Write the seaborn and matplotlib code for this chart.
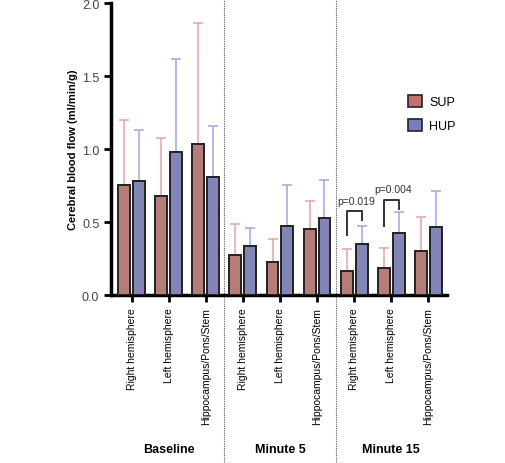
import numpy as np
import pandas as pd
import matplotlib
matplotlib.use("Agg")
import matplotlib.pyplot as plt
import seaborn as sns

# values (mean and top of error bar)
timepoints = ["Baseline", "Minute 5", "Minute 15"]
regions = ["Right hemisphere", "Left hemisphere", "Hippocampus/Pons/Stem"]
groups = ["SUP", "HUP"]
sup_mean = [0.754, 0.679, 1.032, 0.277, 0.224, 0.450, 0.167, 0.185, 0.304]
sup_top = [1.198, 1.073, 1.866, 0.487, 0.384, 0.643, 0.318, 0.325, 0.535]
hup_mean = [0.782, 0.977, 0.809, 0.334, 0.471, 0.531, 0.352, 0.428, 0.469]
hup_top = [1.128, 1.617, 1.155, 0.460, 0.757, 0.789, 0.473, 0.567, 0.713]
p_labels = ["p=0.019", "p=0.004"]
p_slots = [6, 7]  # Minute 15 right / left hemisphere
p_top = [0.576, 0.654]
p_left_low = [0.409, 0.470]
p_right_low = [0.515, 0.587]

cats = [f"{t}|{r}" for t in timepoints for r in regions]
df = pd.DataFrame({
    "cat": cats * 2,
    "group": ["SUP"] * 9 + ["HUP"] * 9,
    "cbf": sup_mean + hup_mean,
})

bar_colors = {"SUP": "#c0736e", "HUP": "#7a7dbf"}
err_colors = {"SUP": "#e3a3a2", "HUP": "#a3a6da"}

plt.rcParams["font.family"] = ["Liberation Sans", "DejaVu Sans"]
fig = plt.figure(figsize=(5.05, 4.64), dpi=100)
ax = fig.add_axes([0.22, 0.362, 0.665, 0.629])

sns.barplot(data=df, x="cat", y="cbf", hue="group", order=cats, hue_order=groups,
            palette=bar_colors, errorbar=None, width=0.8, gap=0.2,
            edgecolor="#222222", linewidth=1.4, ax=ax, legend=False, zorder=3)

tops = {"SUP": sup_top, "HUP": hup_top}
centers = {}
for cont, g in zip(ax.containers, groups):
    xs = np.array([p.get_x() + p.get_width() / 2 for p in cont])
    hs = np.array([p.get_height() for p in cont])
    centers[g] = xs
    up = np.array(tops[g]) - hs
    ax.errorbar(xs, hs, yerr=[np.zeros_like(up), up], fmt="none",
                ecolor=err_colors[g], elinewidth=1.1, capsize=3.5, capthick=1.1, zorder=2)

# significance brackets
for lab, s, t, l0, r0 in zip(p_labels, p_slots, p_top, p_left_low, p_right_low):
    xl, xr = centers["SUP"][s], centers["HUP"][s]
    ax.plot([xl, xl, xr, xr], [l0, t, t, r0], color="#333333", lw=1.4, zorder=4)
    ax.text((xl + xr) / 2 + 0.05, t + 0.035, lab, ha="center", va="bottom", fontsize=7.5,
            color="#333333")

ax.set_ylim(0, 2.0)
ax.set_xlim(-0.55, 8.5)
ax.set_yticks([0, 0.5, 1.0, 1.5, 2.0])
ax.set_yticklabels(["0.0", "0.5", "1.0", "1.5", "2.0"], fontsize=9, color="#444444")
ax.set_xticks(range(9))
ax.set_xticklabels(regions * 3, rotation=90, fontsize=7.5)
ax.set_xlabel("")
ax.set_ylabel("Cerebral blood flow (ml/min/g)", fontsize=8, fontweight="bold", labelpad=3)
for side in ["top", "right"]:
    ax.spines[side].set_visible(False)
for side in ["left", "bottom"]:
    ax.spines[side].set_linewidth(2.5)
ax.tick_params(axis="both", width=2, length=5)

# dotted dividers between time points
tr = ax.get_xaxis_transform()
for xd in [2.5, 5.5]:
    ax.plot([xd, xd], [-0.572, 1.014], transform=tr, color="#555555", lw=0.8,
            linestyle=(0, (1, 1)), clip_on=False)
for i, t in enumerate(timepoints):
    ax.text(3 * i + 1, -0.527, t, transform=tr, ha="center", va="center",
            fontsize=9, fontweight="bold")

handles = [plt.Rectangle((0, 0), 1, 1, facecolor=bar_colors[g], edgecolor="#222222", lw=1.2)
           for g in groups]
ax.legend(handles, groups, loc="upper left", bbox_to_anchor=(0.85, 0.725), frameon=False,
          fontsize=9, handlelength=1.1, handleheight=1.1, labelspacing=0.9, handletextpad=0.6)

fig.savefig("out.png", dpi=100)
